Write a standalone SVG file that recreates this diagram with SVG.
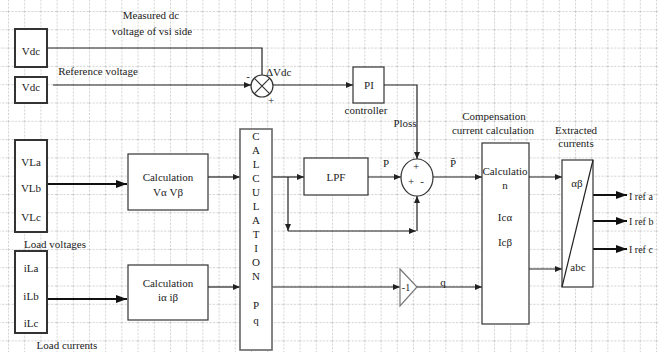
<svg xmlns="http://www.w3.org/2000/svg" width="659" height="352" viewBox="0 0 659 352" font-family="'Liberation Serif', 'Times New Roman', serif">
<defs>
<pattern id="grid" x="8" y="11" width="16.2" height="18.3" patternUnits="userSpaceOnUse">
<path d="M0.5 0 V18.3 M0 0.5 H16.2" fill="none" stroke="#c6c6c6" stroke-width="0.8" stroke-dasharray="2 1.5"/>
</pattern>
<marker id="ar" markerUnits="userSpaceOnUse" markerWidth="8" markerHeight="6" refX="7" refY="3" orient="auto">
<path d="M0,0 L7,3 L0,6 z" fill="#222"/>
</marker>
<marker id="arb" markerUnits="userSpaceOnUse" markerWidth="12" markerHeight="8" refX="11" refY="4" orient="auto">
<path d="M0,0 L11,4 L0,8 z" fill="#111"/>
</marker>
</defs>
<style>
text{font-family:'Liberation Serif','Times New Roman',serif;font-size:11px;fill:#222;text-anchor:middle;dominant-baseline:central}
.box{fill:#fff;stroke:#333;stroke-width:1.2}
.tbox{fill:#fff;stroke:#333;stroke-width:2}
.gbox{fill:#fff;stroke:#666;stroke-width:1.6}
.ln{fill:none;stroke:#222;stroke-width:1.2}
.lnb{fill:none;stroke:#111;stroke-width:2.2}
.lbl{text-anchor:start}
.out{text-anchor:start;font-size:10px}
</style>
<rect width="659" height="352" fill="#fff"/>
<rect width="659" height="352" fill="url(#grid)"/>

<g id="connectors">
<path class="ln" d="M47,48 H262 V75"/>
<path class="ln" d="M53,85 H251" marker-end="url(#ar)"/>
<path class="ln" d="M273,85 H353" marker-end="url(#ar)"/>
<path class="ln" d="M384,85 H417 V159" marker-end="url(#ar)"/>
<path class="lnb" d="M47,184 H127" marker-end="url(#arb)"/>
<path class="lnb" d="M47,299 H127" marker-end="url(#arb)"/>
<path class="ln" d="M208,177 H240" marker-end="url(#ar)"/>
<path class="ln" d="M208,287 H240" marker-end="url(#ar)"/>
<path class="ln" d="M272,177 H304" marker-end="url(#ar)"/>
<path class="ln" d="M288,177 V231" marker-end="url(#ar)"/>
<path class="ln" d="M288,231 H416" marker-end="url(#ar)"/>
<path class="ln" d="M417,231 V196" marker-end="url(#ar)"/>
<path class="ln" d="M368,177 H401" marker-end="url(#ar)"/>
<path class="ln" d="M433,177 H482" marker-end="url(#ar)"/>
<path class="ln" d="M272,287 H400" marker-end="url(#ar)"/>
<path class="ln" d="M417,287 H482" marker-end="url(#ar)"/>
<path class="ln" d="M529,177 H562" marker-end="url(#ar)"/>
<path class="ln" d="M529,269 H562" marker-end="url(#ar)"/>
<path class="lnb" d="M593,195 H627" marker-end="url(#arb)"/>
<path class="lnb" d="M593,221 H627" marker-end="url(#arb)"/>
<path class="lnb" d="M593,249 H627" marker-end="url(#arb)"/>
</g>

<g id="labels">
<text x="151" y="15">Measured dc</text>
<text x="152" y="31">voltage of vsi side</text>
<text x="98" y="71">Reference voltage</text>
<text x="248" y="76">-</text>
<text x="271" y="100">+</text>
<text x="266" y="72" class="lbl">ΔVdc</text>
<text x="366" y="110">controller</text>
<text x="405" y="123">Ploss</text>
<text x="386" y="163">P</text>
<text x="453" y="163">P̄</text>
<text x="443" y="282">q</text>
<text x="494" y="116">Compensation</text>
<text x="493" y="130">current calculation</text>
<text x="576" y="130">Extracted</text>
<text x="576" y="143">currents</text>
<text x="629" y="196" class="out">I ref a</text>
<text x="629" y="221" class="out">I ref  b</text>
<text x="629" y="249" class="out">I ref c</text>
<text x="55" y="244">Load voltages</text>
<text x="67" y="345">Load currents</text>
</g>

<g id="vdc1"><rect class="tbox" x="15" y="29" width="32" height="38"/><text x="31" y="51">Vdc</text></g>
<g id="vdc2"><rect class="tbox" x="15" y="77" width="32" height="26"/><text x="31" y="87">Vdc</text></g>
<g id="mult"><circle cx="262" cy="86" r="11" fill="#fff" stroke="#333" stroke-width="1.2"/><path d="M254.2,78.2 L269.8,93.8 M269.8,78.2 L254.2,93.8" stroke="#333" stroke-width="1.2"/></g>
<g id="pi"><rect class="box" x="353" y="67" width="31" height="36"/><text x="369" y="85">PI</text></g>

<g id="vl"><rect class="tbox" x="15" y="140" width="32" height="92"/><text x="31" y="162">VLa</text><text x="31" y="188">VLb</text><text x="31" y="217">VLc</text></g>
<g id="il"><rect class="tbox" x="15" y="251" width="32" height="82"/><text x="31" y="268">iLa</text><text x="31" y="296">iLb</text><text x="31" y="323">iLc</text></g>

<g id="calcv"><rect class="box" x="128" y="154" width="80" height="56"/><text x="168" y="177">Calculation</text><text x="168" y="192">Vα Vβ</text></g>
<g id="calci"><rect class="box" x="128" y="265" width="80" height="55"/><text x="168" y="283">Calculation</text><text x="168" y="297">iα iβ</text></g>

<g id="pq"><rect class="gbox" x="240" y="129" width="32" height="221"/>
<text x="256" y="136">C</text><text x="256" y="150">A</text><text x="256" y="164">L</text><text x="256" y="178">C</text><text x="256" y="192">U</text><text x="256" y="206">L</text><text x="256" y="220">A</text><text x="256" y="234">T</text><text x="256" y="248">I</text><text x="256" y="262">O</text><text x="256" y="276">N</text><text x="256" y="305">P</text><text x="256" y="320">q</text>
</g>

<g id="lpf"><rect class="box" x="304" y="158" width="64" height="37"/><text x="336" y="177">LPF</text></g>
<g id="sum"><ellipse cx="417" cy="177.5" rx="16" ry="18.5" fill="#fff" stroke="#333" stroke-width="1.2"/><text x="416" y="166">+</text><text x="411" y="181">+</text><text x="422" y="181">-</text></g>
<g id="gain"><path d="M400,269 L417,287 L400,306 z" fill="#fff" stroke="#777" stroke-width="1.2"/><text x="406" y="287" style="font-size:10px">-1</text></g>

<g id="comp"><rect class="box" x="482" y="143" width="47" height="181"/><text x="505" y="171">Calculatio</text><text x="505" y="185">n</text><text x="505" y="217">Icα</text><text x="505" y="242">Icβ</text></g>
<g id="abc"><rect class="box" x="562" y="160" width="31" height="127"/><path class="ln" d="M562,287 L593,160"/><text x="577" y="183">αβ</text><text x="578" y="267">abc</text></g>
</svg>
